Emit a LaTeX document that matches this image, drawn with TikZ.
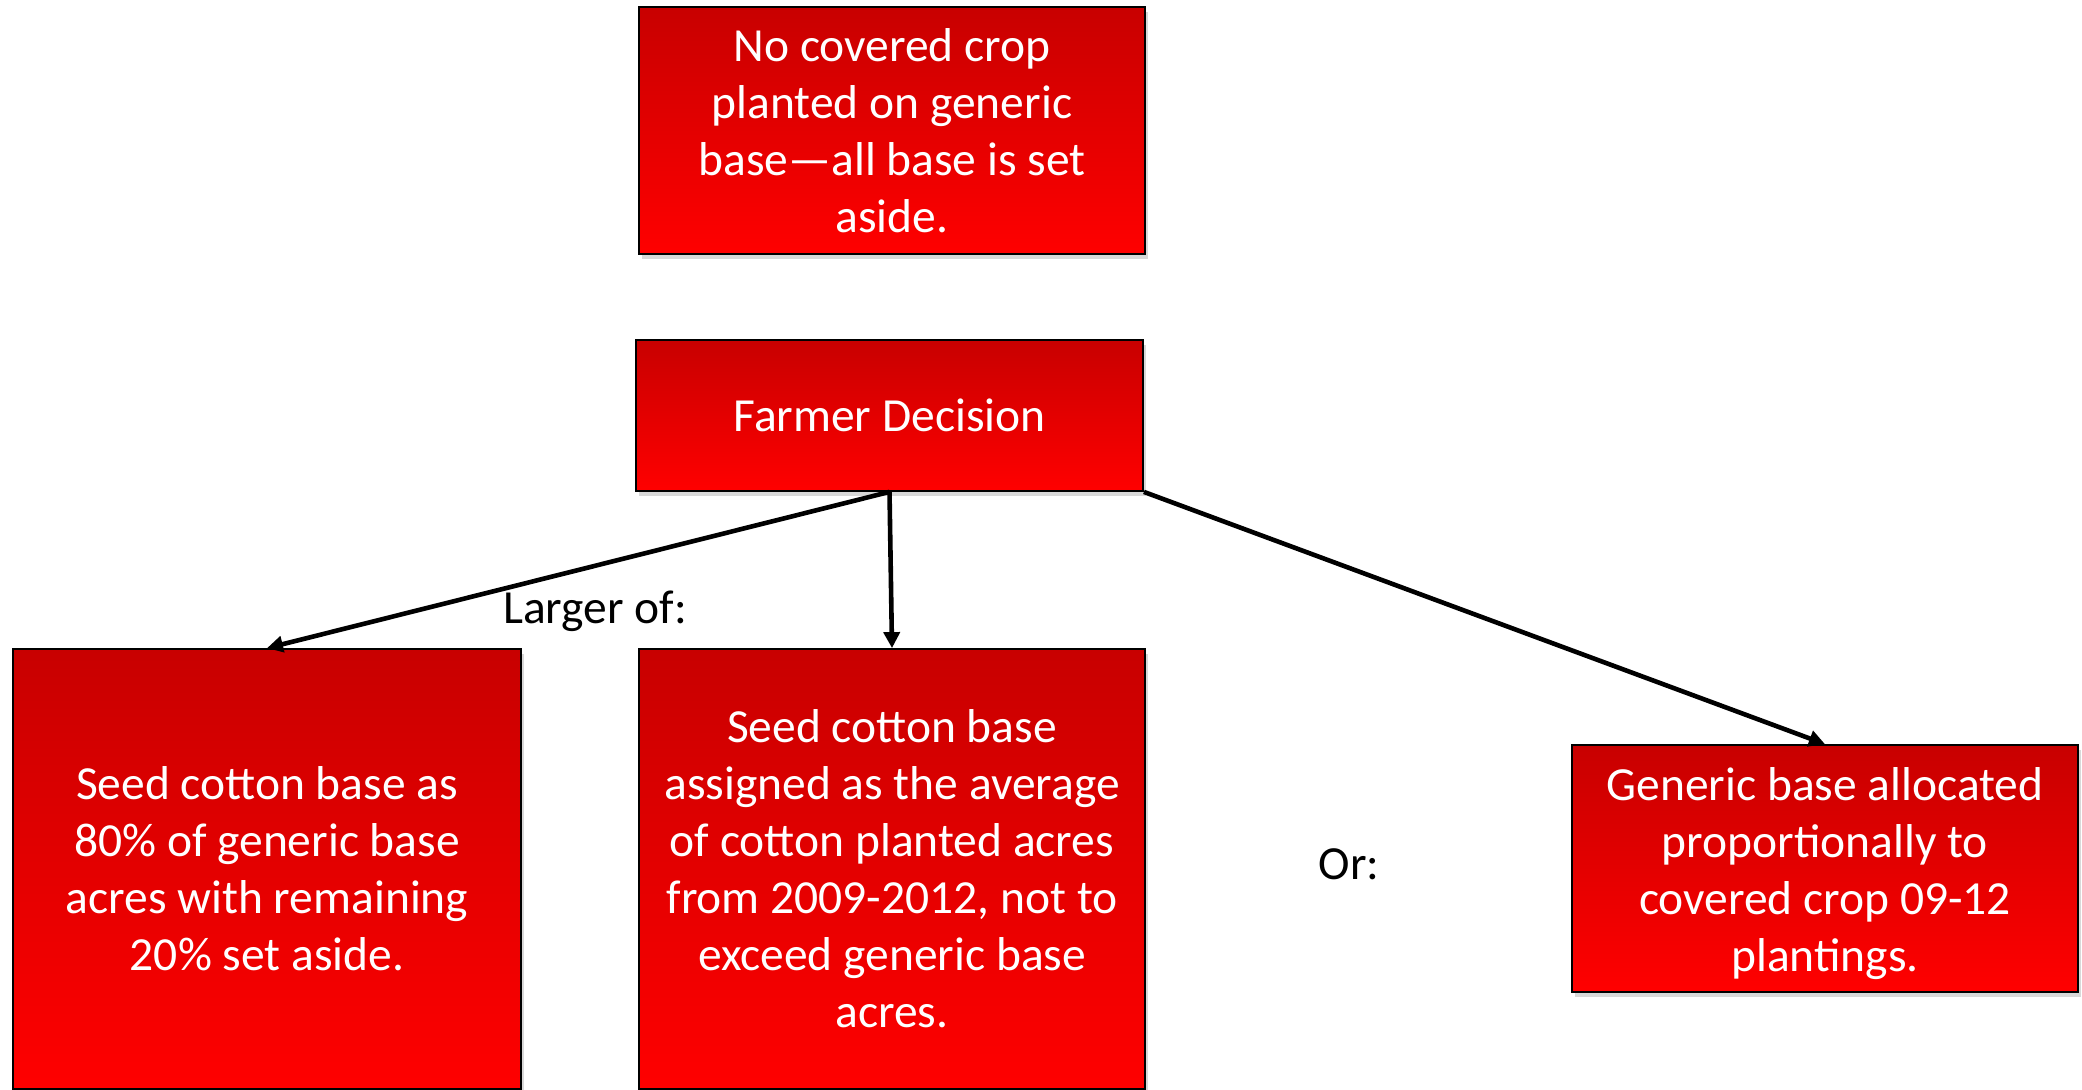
\documentclass[tikz,border=0pt]{standalone}
\usepackage{fontspec}
\setmainfont{Carlito}
\usetikzlibrary{arrows.meta,shadows}
\definecolor{topred}{RGB}{200,0,0}
\definecolor{botred}{RGB}{255,0,0}
\tikzset{
  redbox/.style={draw=black, line width=0.9pt, top color=topred, bottom color=botred,
    text=white, align=center, inner sep=0pt,
    font=\fontsize{23.75}{28.5}\selectfont,
    drop shadow={shadow xshift=1.5pt, shadow yshift=-2.5pt, opacity=0.3}},
  boxtext/.style={text=white, align=center, inner sep=0pt,
    font=\fontsize{23.75}{28.5}\selectfont},
  conn/.style={line width=2.3pt, -{Triangle[length=8pt,width=8pt]}},
  lbl/.style={font=\fontsize{23.75}{28.5}\selectfont, text=black, inner sep=0pt}
}
\begin{document}
\begin{tikzpicture}[x=0.5pt,y=-0.5pt]
\useasboundingbox (0,0) rectangle (2082,1089);
\fill[white] (0,0) rectangle (2082,1089);
\node[redbox, minimum width=253pt, minimum height=123.5pt] (top) at (892,130.5)
  {No covered crop\\planted on generic\\base\textemdash all base is set\\aside.};
\node[redbox, minimum width=253.5pt, minimum height=75.5pt] (fd) at (889.5,415.5)
  {Farmer Decision};
\node[redbox, minimum width=254pt, minimum height=220pt] (left) at (267,869)
  {Seed cotton base as\\80\% of generic base\\acres with remaining\\20\% set aside.};
\node[redbox, minimum width=253pt, minimum height=220pt] (mid) at (892,869)
  {Seed cotton base\\assigned as the average\\of cotton planted acres\\from 2009-2012, not to\\exceed generic base\\acres.};
\node[redbox, minimum width=253pt, minimum height=123.5pt] (right) at (1825,868.5) {};
\node[boxtext] (righttxt) at ([yshift=-2.5pt]right.center)
  {Generic base allocated\\proportionally to\\covered crop 09-12\\plantings.};
\node[lbl] (larger) at (595,611) {Larger of:};
\node[lbl] (or) at (1349,864) {Or:};
\draw[conn] (fd.south) -- (left.north);
\draw[conn] (fd.south) -- (mid.north);
\draw[conn] (fd.south east) -- (right.north);
\end{tikzpicture}
\end{document}
